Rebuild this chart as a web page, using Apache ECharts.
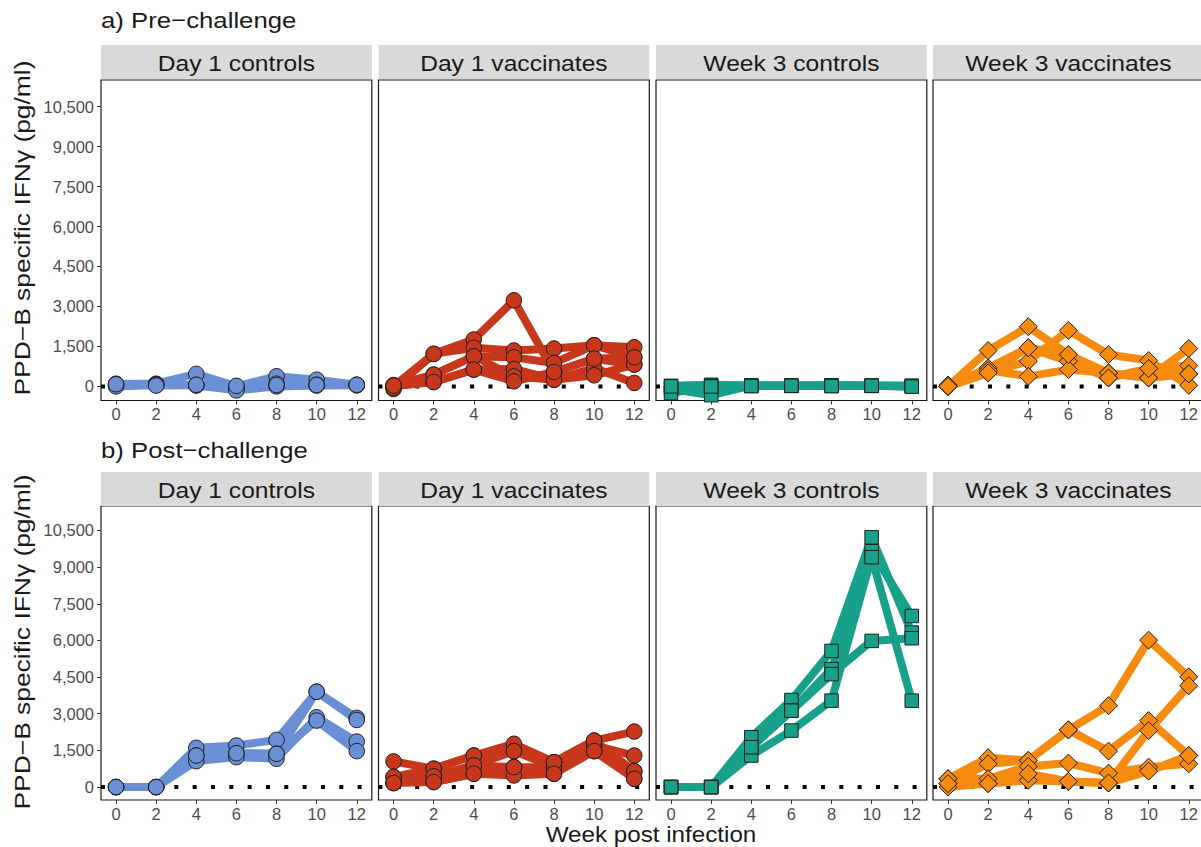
<!DOCTYPE html>
<html>
<head>
<meta charset="utf-8">
<title>PPD-B specific IFNγ</title>
<script src="https://cdn.jsdelivr.net/npm/echarts@6/dist/echarts.min.js"></script>
<style>
  html, body { margin: 0; padding: 0; background: #ffffff; }
  #chart { width: 1201px; height: 847px; }
</style>
</head>
<body>
<div id="chart"></div>
<script>
// ---- data: IFNγ (pg/ml) per animal, sampled at weeks post infection ----
const weeks = [0, 2, 4, 6, 8, 10, 12];
const yTicks = [0, 1500, 3000, 4500, 6000, 7500, 9000, 10500];
const panelTitles = ['Day 1 controls', 'Day 1 vaccinates', 'Week 3 controls', 'Week 3 vaccinates'];
const rowTitles = ['a) Pre\u2212challenge', 'b) Post\u2212challenge'];
const yAxisTitle = 'PPD\u2212B specific IFN\u03b3 (pg/ml)';
const xAxisTitle = 'Week post infection';

// a) Pre-challenge
const preDay1Controls = [
  [100, 100, 470, 0, 380, 250, 60],
  [50, 80, 50, -100, 100, 60, 50],
  [0, 50, 30, -150, 0, 30, 40],
  [80, 30, 60, 20, 50, 50, 60]
];
const preDay1Vaccinates = [
  [0, 1220, 1760, 3230, 540, 1040, 820],
  [-100, 1220, 1450, 1345, 1420, 1545, 1470],
  [50, 440, 1130, 1090, 880, 1545, 1090],
  [0, 165, 630, 655, 250, 690, 130],
  [-50, 440, 1130, 377, 250, 415, 820],
  [30, 165, 630, 190, 540, 1040, 1090]
];
const preWeek3Controls = [
  [20, 60, 30, 30, 20, 20, 20],
  [-100, -330, 30, 30, 30, 30, 0],
  [-250, 20, 20, 20, 40, 30, 20],
  [0, 0, 10, 20, 10, 20, -10]
];
const preWeek3Vaccinates = [
  [0, 1345, 2240, 1195, 505, 317, 1420],
  [0, 505, 945, 2100, 1195, 970, 40],
  [0, 690, 1450, 945, 317, 670, 780],
  [50, 600, 377, 630, 505, 317, 470],
  [0, 505, 1450, 1195, 317, 670, 470]
];

// b) Post-challenge
const postDay1Controls = [
  [0, 0, 1605, 1700, 1930, 3900, 2830],
  [0, 0, 1290, 1385, 1360, 3900, 2745],
  [0, 0, 1060, 1225, 1155, 2855, 1860],
  [0, 0, 1290, 1385, 1360, 2720, 1470]
];
const postDay1Vaccinates = [
  [1050, 750, 1290, 1770, 1020, 1900, 2270],
  [410, 750, 1290, 1470, 815, 1700, 1290],
  [165, 435, 885, 815, 815, 1470, 650],
  [410, 205, 545, 475, 545, 1700, 340],
  [165, 435, 885, 1470, 1020, 1900, 650],
  [165, 205, 545, 815, 545, 1470, 340]
];
const postWeek3Controls = [
  [0, 0, 2040, 3560, 5570, 10220, 6320],
  [0, 0, 1630, 3125, 4825, 9650, 7000],
  [0, 0, 1290, 2310, 3535, 9405, 3535],
  [0, 0, 1630, 3125, 4620, 5980, 6090]
];
const postWeek3Vaccinates = [
  [340, 1200, 1090, 2340, 3330, 6010, 4510],
  [140, 950, 1090, 2340, 1470, 2720, 1290],
  [0, 140, 275, 230, 165, 2310, 4145],
  [340, 340, 845, 980, 570, 815, 950],
  [140, 140, 545, 230, 165, 650, 1290]
];

const panels = [
  [preDay1Controls, preDay1Vaccinates, preWeek3Controls, preWeek3Vaccinates],
  [postDay1Controls, postDay1Vaccinates, postWeek3Controls, postWeek3Vaccinates]
];

// ---- layout & styling ----
const FONT = '"Liberation Sans", Arial, Helvetica, sans-serif';
const GRID_LEFTS = [101, 378.5, 656, 933];
const GRID_W = 270.8;
const ROW_LAYOUT = [
  { top: 80, height: 320.5, stripTop: 45, titleY: 20, yTitleY: 228 },
  { top: 506, height: 294, stripTop: 472, titleY: 450, yTitleY: 642 }
];
const STRIP_H = 34;
const X_MIN = -0.75, X_MAX = 12.75;
const Y_MIN = -530, Y_MAX = 11500;
const TICK_LABEL = { color: '#4d4d4d', fontSize: 16.5, fontFamily: 'Liberation Sans' };
const GROUP_STYLE = [
  { color: '#6b8fd4', symbol: 'circle', size: 15.5 },
  { color: '#c8371b', symbol: 'circle', size: 15.5 },
  { color: '#17a08a', symbol: 'rect', size: 13.5 },
  { color: '#f68b10', symbol: 'diamond', size: 18 }
];

const grid = [], xAxis = [], yAxis = [], series = [], graphic = [];

ROW_LAYOUT.forEach((row, r) => {
  // row heading
  graphic.push({
    type: 'text', x: GRID_LEFTS[0], y: row.titleY, scaleX: 1.12,
    style: { text: rowTitles[r], font: '23px ' + FONT, fill: '#1a1a1a',
             textAlign: 'left', textVerticalAlign: 'middle' }
  });
  // y-axis title
  graphic.push({
    type: 'text', x: 22, y: row.yTitleY, rotation: Math.PI / 2, scaleX: 1.2,
    style: { text: yAxisTitle, font: '22px ' + FONT, fill: '#1a1a1a',
             textAlign: 'center', textVerticalAlign: 'middle' }
  });

  GRID_LEFTS.forEach((left, c) => {
    const gi = r * 4 + c;
    grid.push({
      left: left, top: row.top, width: GRID_W, height: row.height,
      show: true, backgroundColor: '#ffffff', borderColor: '#1a1a1a', borderWidth: 1.2,
      containLabel: false, outerBoundsMode: 'none'
    });
    xAxis.push({
      gridIndex: gi, type: 'value', min: X_MIN, max: X_MAX, position: 'bottom',
      axisLine: { show: false, onZero: false }, splitLine: { show: false },
      axisTick: { show: true, customValues: weeks, length: 4, lineStyle: { color: '#333333', width: 1 } },
      axisLabel: Object.assign({ show: true, customValues: weeks, margin: 5 }, TICK_LABEL)
    });
    // only the left-hand panel of each row carries y ticks and labels
    yAxis.push({
      gridIndex: gi, type: 'value', min: Y_MIN, max: Y_MAX, position: 'left',
      axisLine: { show: false, onZero: false }, splitLine: { show: false },
      axisTick: { show: c === 0, customValues: yTicks, length: 4, lineStyle: { color: '#333333', width: 1 } },
      axisLabel: Object.assign({
        show: c === 0, customValues: yTicks, margin: 7,
        formatter: v => Number(v).toLocaleString('en-US')
      }, TICK_LABEL)
    });

    // facet strip
    graphic.push({
      type: 'rect', z: 10,
      shape: { x: left, y: row.stripTop, width: GRID_W, height: STRIP_H },
      style: { fill: '#d9d9d9' }
    });
    graphic.push({
      type: 'text', z: 11, x: left + GRID_W / 2, y: row.stripTop + STRIP_H / 2 + 1, scaleX: 1.12,
      style: { text: panelTitles[c], font: '22px ' + FONT, fill: '#1a1a1a',
               textAlign: 'center', textVerticalAlign: 'middle' }
    });

    const st = GROUP_STYLE[c];
    // dotted reference line at zero
    series.push({
      type: 'line', xAxisIndex: gi, yAxisIndex: gi, z: 1, silent: true,
      symbol: 'none', animation: false,
      data: [[X_MIN, 0], [X_MAX, 0]],
      lineStyle: { color: '#000000', width: 4, type: [4, 14.33], cap: 'butt' }
    });
    // one line per animal
    panels[r][c].forEach(vals => {
      series.push({
        type: 'line', xAxisIndex: gi, yAxisIndex: gi, z: 2, silent: true,
        showSymbol: false, symbol: 'none', animation: false,
        data: weeks.map((w, i) => [w, vals[i]]),
        lineStyle: { color: st.color, width: 8, cap: 'butt', join: 'round' }
      });
    });
    // points on top of all lines
    const pts = [];
    panels[r][c].forEach(vals => weeks.forEach((w, i) => pts.push([w, vals[i]])));
    series.push({
      type: 'scatter', xAxisIndex: gi, yAxisIndex: gi, z: 3, silent: true, animation: false,
      symbol: st.symbol, symbolSize: st.size,
      data: pts,
      itemStyle: { color: st.color, borderColor: '#1f1f1f', borderWidth: 1, opacity: 1 }
    });
  });
});

// x-axis title
graphic.push({
  type: 'text', x: 651, y: 834, scaleX: 1.1,
  style: { text: xAxisTitle, font: '22px ' + FONT, fill: '#1a1a1a',
           textAlign: 'center', textVerticalAlign: 'middle' }
});

const chart = echarts.init(document.getElementById('chart'), null, { renderer: 'svg' });
chart.setOption({
  animation: false,
  backgroundColor: '#ffffff',
  textStyle: { fontFamily: FONT },
  grid, xAxis, yAxis, series, graphic
});
</script>
</body>
</html>
